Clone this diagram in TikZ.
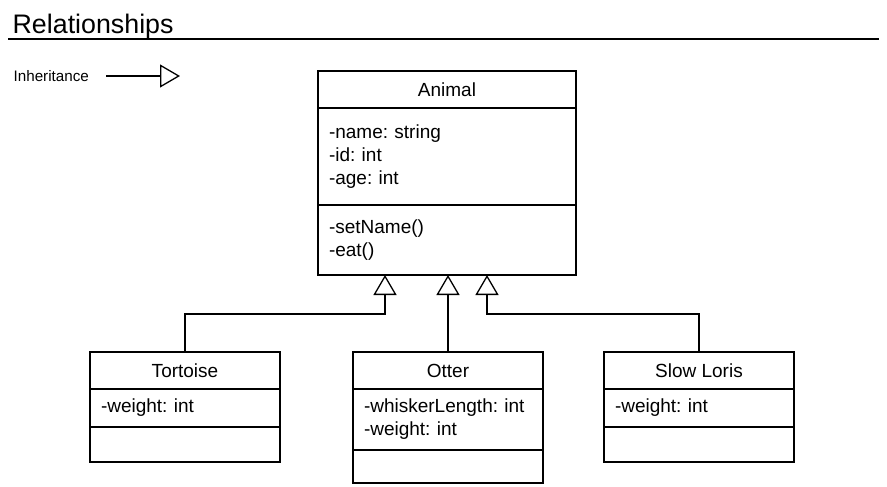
\documentclass[tikz,border=0pt]{standalone}
\usepackage{fontspec}
\setmainfont{Liberation Sans}
\usetikzlibrary{arrows.meta, positioning}
\frenchspacing

\begin{document}
\begin{tikzpicture}[x=1pt, y=-1pt, line width=1.3pt, node distance=0pt,
  head/.style={draw, outer sep=0pt, inner sep=0pt, minimum width=#1, minimum height=37pt, font=\fontsize{19}{23}\selectfont},
  part/.style 2 args={draw, outer sep=0pt, inner xsep=11pt, inner ysep=0pt, text width=#1, minimum height=#2, align=left, font=\fontsize{19}{23}\selectfont},
  inh/.style={-{Triangle[open, length=20pt, width=23pt, fill=white]}}]
  \useasboundingbox (0,0) rectangle (887,487);

  \node[anchor=base west, inner sep=0pt, font=\fontsize{26.8}{30}\selectfont] (title) at (12,34) {Relationships};
  \draw (8,39) -- (879,39);

  \node[anchor=west, inner sep=0pt, font=\fontsize{15.2}{18}\selectfont] (legend) at (13,76) {Inheritance};
  \coordinate (legStart) at (106,76);
  \coordinate (legEnd) at (180,76);
  \draw[inh] (legStart) -- (legEnd);

  \node[head=258pt] (animal) at (447,89.5) {Animal};
  \node[part={236pt}{97pt}, below=of animal] (animalAttr) {-name: string\\-id: int\\-age: int};
  \node[part={236pt}{70pt}, below=of animalAttr] (animalOps) {-setName()\\-eat()};

  \node[head=190pt] (tortoise) at (185,370.5) {Tortoise};
  \node[part={168pt}{38pt}, below=of tortoise] (tortoiseAttr) {-weight: int};
  \node[part={168pt}{35pt}, below=of tortoiseAttr] (tortoiseOps) {};

  \node[head=190pt] (otter) at (448,370.5) {Otter};
  \node[part={168pt}{61pt}, below=of otter] (otterAttr) {-whiskerLength: int\\-weight: int};
  \node[part={168pt}{33pt}, below=of otterAttr] (otterOps) {};

  \node[head=190pt] (loris) at (699,370.5) {Slow Loris};
  \node[part={168pt}{38pt}, below=of loris] (lorisAttr) {-weight: int};
  \node[part={168pt}{35pt}, below=of lorisAttr] (lorisOps) {};

  \draw[inh] (tortoise.north) -- ++(0,-38) -| ([xshift=-62pt]animalOps.south);
  \draw[inh] (otter.north) -- (otter.north |- animalOps.south);
  \draw[inh] (loris.north) -- ++(0,-38) -| ([xshift=40pt]animalOps.south);
\end{tikzpicture}
\end{document}
